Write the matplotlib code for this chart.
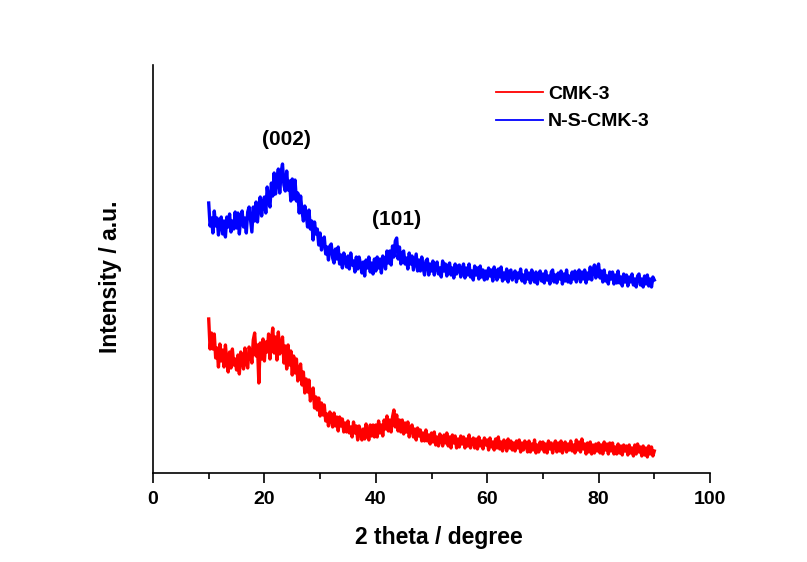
import numpy as np
import matplotlib.pyplot as plt

plt.rcParams['font.family'] = ['Liberation Sans', 'DejaVu Sans']
plt.rcParams['font.weight'] = 'bold'

# XRD patterns, 2 theta from 10 to 90 degree in 0.25 degree steps (intensity in a.u.)
cmk3 = [154, 124, 140, 124, 139, 115, 125, 106, 129, 112, 123, 106, 128, 112, 101, 121, 105, 124, 108, 114,
        103, 118, 99, 121, 114, 104, 125, 110, 105, 126, 121, 110, 133, 140, 117, 128, 90, 130, 114, 134,
        112, 131, 121, 139, 114, 132, 145, 120, 136, 113, 141, 119, 126, 136, 110, 127, 104, 128, 108, 122,
        98, 117, 100, 114, 92, 103, 109, 88, 101, 80, 94, 81, 93, 72, 81, 85, 65, 76, 63, 75,
        57, 70, 58, 68, 52, 59, 47, 61, 55, 46, 60, 47, 56, 42, 56, 47, 54, 41, 50, 41,
        52, 40, 46, 36, 51, 40, 47, 33, 47, 42, 33, 44, 34, 49, 38, 33, 48, 37, 48, 36,
        48, 36, 52, 40, 48, 37, 53, 44, 57, 42, 53, 41, 56, 63, 46, 58, 42, 53, 41, 53,
        39, 50, 41, 51, 36, 45, 48, 36, 44, 33, 45, 37, 43, 32, 40, 32, 43, 32, 38, 29,
        40, 31, 41, 28, 36, 27, 39, 34, 27, 38, 30, 40, 27, 36, 25, 38, 30, 37, 25, 34,
        26, 37, 29, 36, 25, 34, 27, 38, 25, 32, 35, 25, 34, 24, 36, 27, 32, 24, 35, 28,
        33, 23, 35, 26, 31, 23, 34, 25, 36, 24, 31, 22, 33, 29, 22, 34, 25, 32, 23, 30,
        22, 32, 25, 33, 21, 30, 23, 32, 28, 21, 32, 21, 29, 23, 33, 20, 28, 21, 31, 24,
        31, 21, 29, 20, 32, 24, 30, 20, 28, 32, 21, 30, 22, 32, 20, 27, 31, 21, 29, 23,
        32, 22, 28, 20, 33, 23, 31, 21, 34, 24, 29, 19, 30, 21, 31, 19, 28, 20, 29, 22,
        30, 20, 28, 19, 31, 23, 29, 19, 30, 22, 30, 19, 26, 19, 29, 20, 27, 18, 28, 22,
        27, 18, 28, 20, 25, 17, 28, 19, 29, 21, 26, 17, 27, 18, 25, 16, 27, 19, 26, 17,
        22]

nscmk3 = [270, 247, 255, 240, 262, 247, 255, 238, 249, 256, 239, 252, 236, 256, 246, 259, 241, 252, 244, 261,
          245, 260, 239, 256, 262, 246, 255, 240, 261, 266, 253, 241, 266, 252, 271, 251, 267, 276, 257, 270,
          276, 260, 286, 272, 266, 290, 277, 300, 279, 293, 304, 280, 301, 309, 288, 282, 302, 283, 292, 272,
          294, 274, 293, 272, 280, 260, 277, 262, 252, 267, 259, 246, 263, 244, 252, 233, 251, 239, 244, 228,
          240, 223, 233, 236, 219, 226, 213, 227, 229, 215, 210, 224, 214, 226, 209, 218, 205, 220, 214, 206,
          217, 204, 220, 208, 212, 201, 216, 204, 216, 209, 200, 211, 197, 213, 205, 216, 201, 210, 199, 214,
          202, 216, 205, 214, 200, 217, 212, 204, 222, 210, 222, 208, 227, 216, 232, 235, 214, 226, 209, 220,
          222, 209, 215, 204, 220, 209, 217, 203, 211, 219, 202, 213, 202, 216, 205, 198, 212, 214, 198, 209,
          202, 212, 198, 208, 211, 199, 205, 196, 212, 202, 209, 197, 207, 210, 198, 205, 195, 209, 199, 207,
          208, 196, 204, 209, 195, 205, 198, 209, 196, 202, 193, 207, 198, 205, 194, 207, 196, 203, 193, 202,
          194, 205, 197, 203, 192, 206, 200, 193, 204, 196, 206, 192, 200, 194, 204, 191, 201, 203, 193, 199,
          202, 191, 200, 195, 204, 192, 198, 190, 203, 194, 200, 190, 203, 195, 191, 201, 189, 199, 202, 192,
          199, 190, 202, 193, 197, 189, 201, 203, 191, 198, 190, 200, 194, 202, 189, 199, 192, 203, 191, 197,
          190, 201, 194, 202, 191, 198, 203, 191, 201, 194, 203, 190, 200, 194, 206, 193, 203, 208, 195, 205,
          209, 195, 202, 191, 203, 192, 197, 189, 201, 194, 201, 189, 198, 190, 202, 190, 196, 187, 199, 191,
          198, 187, 196, 191, 199, 188, 194, 186, 197, 199, 188, 194, 186, 197, 189, 198, 187, 194, 186, 196,
          193]

two_theta = np.linspace(10, 90, len(cmk3))

fig = plt.figure(figsize=(8.07, 5.62), dpi=100)
ax = fig.add_axes([0.1896, 0.1584, 0.6902, 0.7259])

ax.plot(two_theta, cmk3, color='#ff0000', lw=2.4, label='CMK-3')
ax.plot(two_theta, nscmk3, color='#0000ff', lw=2.4, label='N-S-CMK-3')

# peak indexing
ax.text(24.0, 334, '(002)', ha='center', va='center', fontsize=15, fontweight='bold')
ax.text(43.8, 254, '(101)', ha='center', va='center', fontsize=15, fontweight='bold')

ax.set_xlim(0, 100)
ax.set_ylim(0, 408)
ax.set_xticks([0, 20, 40, 60, 80, 100])
ax.set_xticks([10, 30, 50, 70, 90], minor=True)
ax.set_yticks([])
ax.tick_params(axis='x', which='major', length=7, width=1.2, direction='out', labelsize=14, pad=6)
ax.tick_params(axis='x', which='minor', length=4, width=1.2, direction='out')
for lbl in ax.get_xticklabels():
    lbl.set_fontweight('bold')

for side in ['top', 'right']:
    ax.spines[side].set_visible(False)
for side in ['left', 'bottom']:
    ax.spines[side].set_linewidth(1.2)

ax.set_xlabel('2 theta / degree', fontsize=16.5, fontweight='bold', va='center')
ax.xaxis.set_label_coords(0.514, -0.157)
ax.set_ylabel('Intensity / a.u.', fontsize=16.5, fontweight='bold', va='center')
ax.yaxis.set_label_coords(-0.077, 0.48)

leg = ax.legend(loc='upper left', bbox_to_anchor=(0.616, 0.95), frameon=False,
                borderaxespad=0, borderpad=0, handlelength=2.42, handletextpad=0.26,
                labelspacing=0.5, prop={'weight': 'bold', 'size': 14})
for line in leg.get_lines():
    line.set_linewidth(1.3)

fig.savefig('out.png', dpi=100)
